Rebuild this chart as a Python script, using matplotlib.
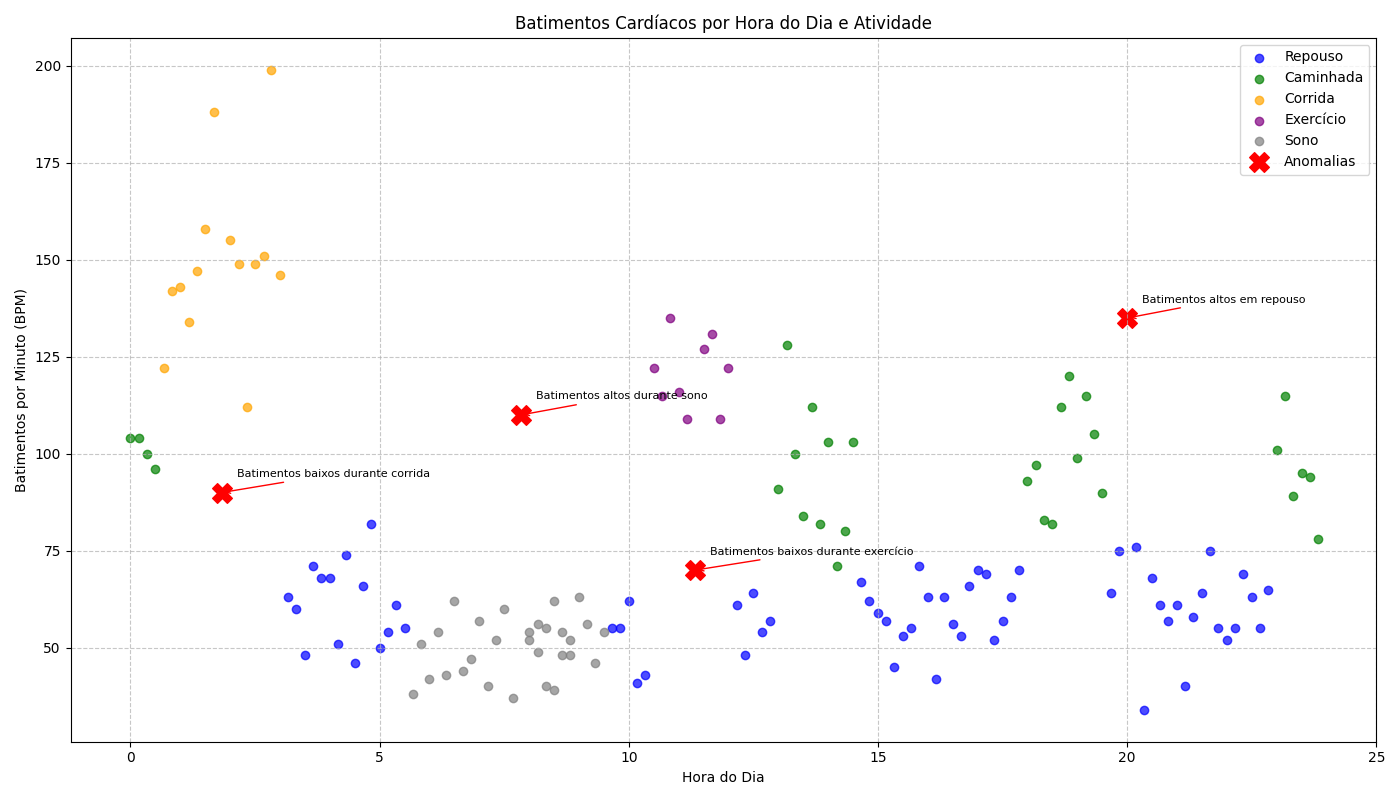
import matplotlib.pyplot as plt

rep_h = [3.17, 3.33, 3.5, 3.67, 3.83, 4.0, 4.17, 4.33, 4.5, 4.67, 4.83, 5.0, 5.17, 5.33, 5.5,
         9.67, 9.83, 10.0, 10.17, 10.33, 12.17, 12.33, 12.5, 12.67, 12.83,
         14.67, 14.83, 15.0, 15.17, 15.33, 15.5, 15.67, 15.83, 16.0, 16.17, 16.33, 16.5, 16.67,
         16.83, 17.0, 17.17, 17.33, 17.5, 17.67, 17.83,
         19.67, 19.83, 20.17, 20.33, 20.5, 20.67, 20.83, 21.0, 21.17, 21.33, 21.5, 21.67, 21.83,
         22.0, 22.17, 22.33, 22.5, 22.67, 22.83]
rep_b = [63, 60, 48, 71, 68, 68, 51, 74, 46, 66, 82, 50, 54, 61, 55,
         55, 55, 62, 41, 43, 61, 48, 64, 54, 57,
         67, 62, 59, 57, 45, 53, 55, 71, 63, 42, 63, 56, 53, 66, 70, 69, 52, 57, 63, 70,
         64, 75, 76, 34, 68, 61, 57, 61, 40, 58, 64, 75, 55, 52, 55, 69, 63, 55, 65]

cam_h = [0.0, 0.17, 0.33, 0.5, 13.0, 13.17, 13.33, 13.5, 13.67, 13.83, 14.0, 14.17, 14.33, 14.5,
         18.0, 18.17, 18.33, 18.5, 18.67, 18.83, 19.0, 19.17, 19.33, 19.5,
         23.0, 23.17, 23.33, 23.5, 23.67, 23.83]
cam_b = [104, 104, 100, 96, 91, 128, 100, 84, 112, 82, 103, 71, 80, 103,
         93, 97, 83, 82, 112, 120, 99, 115, 105, 90,
         101, 115, 89, 95, 94, 78]

cor_h = [0.67, 0.83, 1.0, 1.17, 1.33, 1.5, 1.67, 2.0, 2.17, 2.33, 2.5, 2.67, 2.83, 3.0]
cor_b = [122, 142, 143, 134, 147, 158, 188, 155, 149, 112, 149, 151, 199, 146]

exe_h = [10.5, 10.67, 10.83, 11.0, 11.17, 11.5, 11.67, 11.83, 12.0]
exe_b = [122, 115, 135, 116, 109, 127, 131, 109, 122]

sono_h = [5.67, 5.83, 6.0, 6.17, 6.33, 6.5, 6.67, 6.83, 7.0, 7.17, 7.33, 7.5, 7.67,
          8.0, 8.0, 8.17, 8.17, 8.33, 8.33, 8.5, 8.5, 8.67, 8.67, 8.83, 8.83, 9.0, 9.17, 9.33, 9.5]
sono_b = [38, 51, 42, 54, 43, 62, 44, 47, 57, 40, 52, 60, 37,
          54, 52, 56, 49, 55, 40, 62, 39, 54, 48, 52, 48, 63, 56, 46, 54]

anom_h = [1.83, 7.83, 11.33, 20.0]
anom_b = [90, 110, 70, 135]
anom_txt = ["Batimentos baixos durante corrida", "Batimentos altos durante sono",
            "Batimentos baixos durante exercício", "Batimentos altos em repouso"]

fig, ax = plt.subplots(figsize=(14, 8), dpi=100)
ax.scatter(rep_h, rep_b, color="blue", alpha=0.7, label="Repouso")
ax.scatter(cam_h, cam_b, color="green", alpha=0.7, label="Caminhada")
ax.scatter(cor_h, cor_b, color="orange", alpha=0.7, label="Corrida")
ax.scatter(exe_h, exe_b, color="purple", alpha=0.7, label="Exercício")
ax.scatter(sono_h, sono_b, color="gray", alpha=0.7, label="Sono")
ax.scatter(anom_h, anom_b, color="red", marker="X", s=200, label="Anomalias")

for h, b, t in zip(anom_h, anom_b, anom_txt):
    ax.annotate(t, xy=(h, b), xytext=(h + 0.3, b + 4), fontsize=8,
                arrowprops=dict(arrowstyle="->", color="red"))

ax.set_title("Batimentos Cardíacos por Hora do Dia e Atividade")
ax.set_xlabel("Hora do Dia")
ax.set_ylabel("Batimentos por Minuto (BPM)")
ax.set_xlim(-1.2, 25)
ax.grid(True, linestyle="--", alpha=0.7)
ax.legend(loc="upper right")
fig.tight_layout()
fig.savefig("out.png")
